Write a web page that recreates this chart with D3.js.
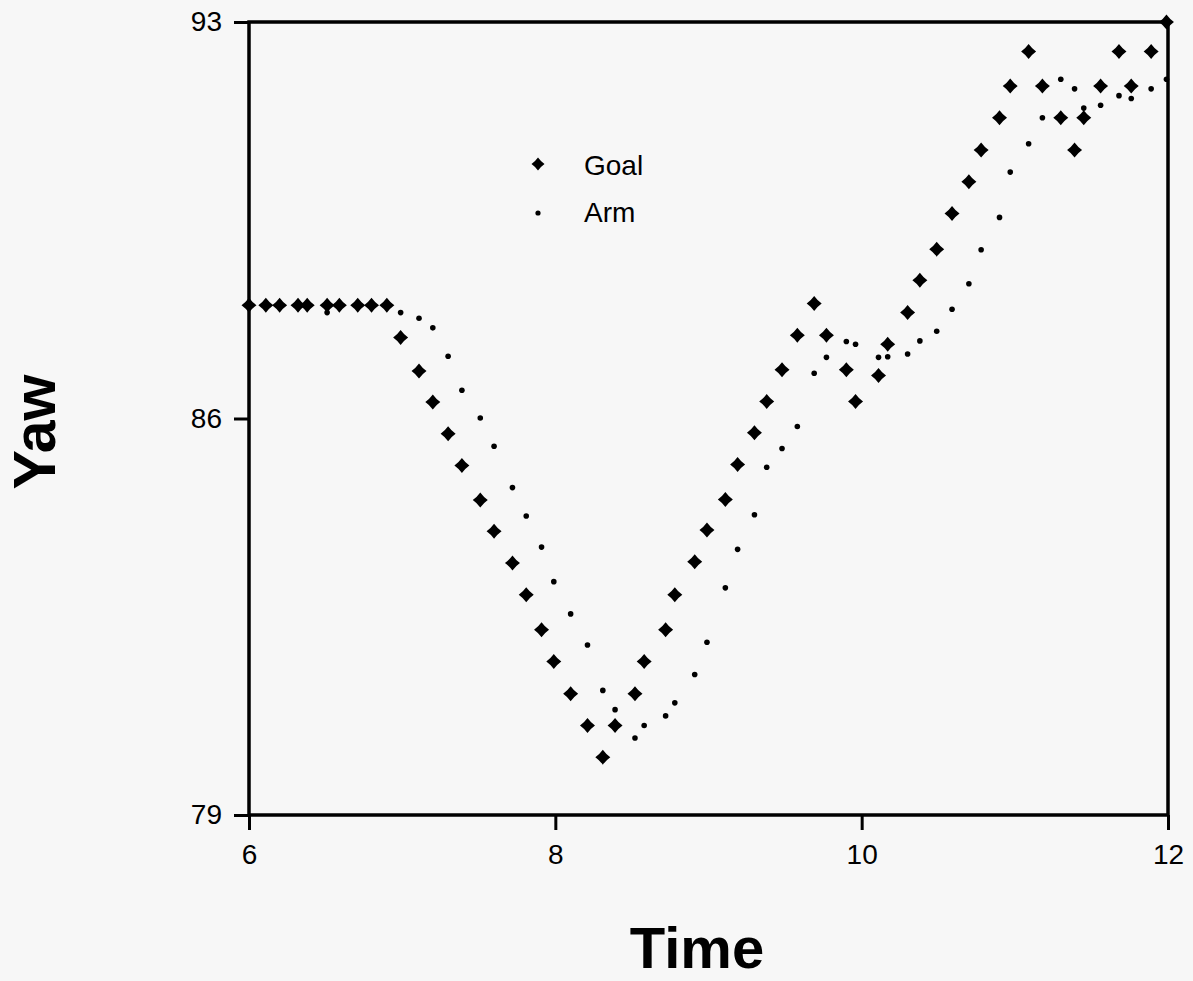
<!DOCTYPE html>
<html>
<head>
<meta charset="utf-8">
<script src="https://cdn.jsdelivr.net/npm/d3@7"></script>
<style>
  html, body { margin: 0; padding: 0; background: #f7f7f7; }
  svg { display: block; }
  text { font-family: "Liberation Sans", Arial, Helvetica, sans-serif; fill: #000; }
</style>
</head>
<body>
<svg id="chart" width="1193" height="981"></svg>
<script>
// Sample times (s) shared by both series
const times = [
  6.00, 6.11, 6.20, 6.32, 6.38, 6.51, 6.59, 6.71, 6.80, 6.90,
  6.99, 7.11, 7.20, 7.30, 7.39, 7.51, 7.60, 7.72, 7.81, 7.91,
  7.99, 8.10, 8.21, 8.31, 8.39, 8.52, 8.58, 8.72, 8.78, 8.91,
  8.99, 9.11, 9.19, 9.30, 9.38, 9.48, 9.58, 9.69, 9.77, 9.90,
  9.96, 10.11, 10.17, 10.30, 10.38, 10.49, 10.59, 10.70, 10.78, 10.90,
  10.97, 11.09, 11.18, 11.30, 11.39, 11.45, 11.56, 11.68, 11.76, 11.89,
  11.99
];

// Commanded yaw
const goalYaw = [
  88.00, 88.00, 88.00, 88.00, 88.00, 88.00, 88.00, 88.00, 88.00, 88.00,
  87.43, 86.84, 86.29, 85.73, 85.17, 84.56, 84.01, 83.45, 82.89, 82.27,
  81.71, 81.14, 80.58, 80.02, 80.58, 81.14, 81.71, 82.27, 82.89, 83.47,
  84.03, 84.57, 85.19, 85.75, 86.30, 86.86, 87.47, 88.03, 87.47, 86.86,
  86.30, 86.76, 87.31, 87.87, 88.44, 88.99, 89.62, 90.18, 90.74, 91.31,
  91.87, 92.48, 91.87, 91.31, 90.74, 91.31, 91.87, 92.48, 91.87, 92.48,
  93.00
];

// Measured arm yaw
const armYaw = [
  88.00, 88.00, 88.00, 88.00, 88.00, 87.87, 88.00, 88.00, 88.00, 88.00,
  87.87, 87.77, 87.60, 87.10, 86.50, 86.01, 85.51, 84.78, 84.28, 83.73,
  83.12, 82.55, 82.00, 81.20, 80.86, 80.36, 80.58, 80.75, 80.98, 81.48,
  82.05, 83.01, 83.69, 84.30, 85.14, 85.47, 85.86, 86.80, 87.08, 87.36,
  87.31, 87.08, 87.09, 87.14, 87.37, 87.54, 87.93, 88.38, 88.98, 89.55,
  90.35, 90.85, 91.31, 91.99, 91.82, 91.48, 91.53, 91.70, 91.65, 91.82,
  91.99
];

const xTicks = [6, 8, 10, 12];
const yTicks = [79, 86, 93];
const seriesNames = ["Goal", "Arm"];

const svg = d3.select("#chart");
const margin = { left: 249, right: 25, top: 22, bottom: 166 };
const W = 1193, H = 981;

const x = d3.scaleLinear().domain([6, 12]).range([margin.left, W - margin.right]);
const y = d3.scaleLinear().domain([79, 93]).range([H - margin.bottom, margin.top]);

// Diamond marker with slightly pinched sides
function diamondPath(r) {
  const k = r * 0.42;
  return `M0,${-r} Q${k},${-k} ${r},0 Q${k},${k} 0,${r} Q${-k},${k} ${-r},0 Q${-k},${-k} 0,${-r}Z`;
}

const goalData = times.map((t, i) => ({ t, v: goalYaw[i] }));
const armData = times.map((t, i) => ({ t, v: armYaw[i] }));

// Arm points
svg.append("g").selectAll("circle").data(armData).join("circle")
  .attr("cx", d => x(d.t)).attr("cy", d => y(d.v)).attr("r", 2.8)
  .attr("fill", "#000");

// Goal points
svg.append("g").selectAll("path").data(goalData).join("path")
  .attr("transform", d => `translate(${x(d.t)},${y(d.v)})`)
  .attr("d", diamondPath(7.5))
  .attr("fill", "#000");

// Frame
const frame = svg.append("g").attr("fill", "none").attr("stroke", "#000").attr("stroke-width", 3.5);
frame.append("rect")
  .attr("x", x(6)).attr("y", y(93))
  .attr("width", x(12) - x(6)).attr("height", y(79) - y(93));

// Axes
const xAxis = svg.append("g").attr("transform", `translate(0,${y(79)})`)
  .call(d3.axisBottom(x).tickValues(xTicks).tickSize(15).tickPadding(14).tickFormat(d3.format("d")));
const yAxis = svg.append("g").attr("transform", `translate(${x(6)},0)`)
  .call(d3.axisLeft(y).tickValues(yTicks).tickSize(15).tickPadding(12).tickFormat(d3.format("d")));

[xAxis, yAxis].forEach(a => {
  a.attr("font-size", null).attr("font-family", null);
  a.select(".domain").remove();
  a.selectAll(".tick line").attr("stroke", "#000").attr("stroke-width", 3);
  a.selectAll(".tick text")
    .style("font-family", "'Liberation Sans', Arial, sans-serif")
    .style("font-size", "28px").attr("fill", "#000");
});
xAxis.selectAll(".tick text").attr("dy", "0.71em");

// Axis titles
svg.append("text")
  .attr("x", 697).attr("y", 968)
  .attr("text-anchor", "middle")
  .style("font-size", "58px").style("font-weight", "bold")
  .text("Time");

svg.append("text")
  .attr("transform", "translate(55,432) rotate(-90)")
  .attr("text-anchor", "middle")
  .style("font-size", "59px").style("font-weight", "bold")
  .text("Yaw");

// Legend
const legend = svg.append("g");
legend.append("path")
  .attr("transform", "translate(538,164)")
  .attr("d", diamondPath(6.5)).attr("fill", "#000");
legend.append("circle")
  .attr("cx", 538).attr("cy", 213).attr("r", 2.6).attr("fill", "#000");
legend.selectAll("text").data(seriesNames).join("text")
  .attr("x", 584).attr("y", (d, i) => 175 + i * 47)
  .style("font-size", "28px")
  .text(d => d);
</script>
</body>
</html>
